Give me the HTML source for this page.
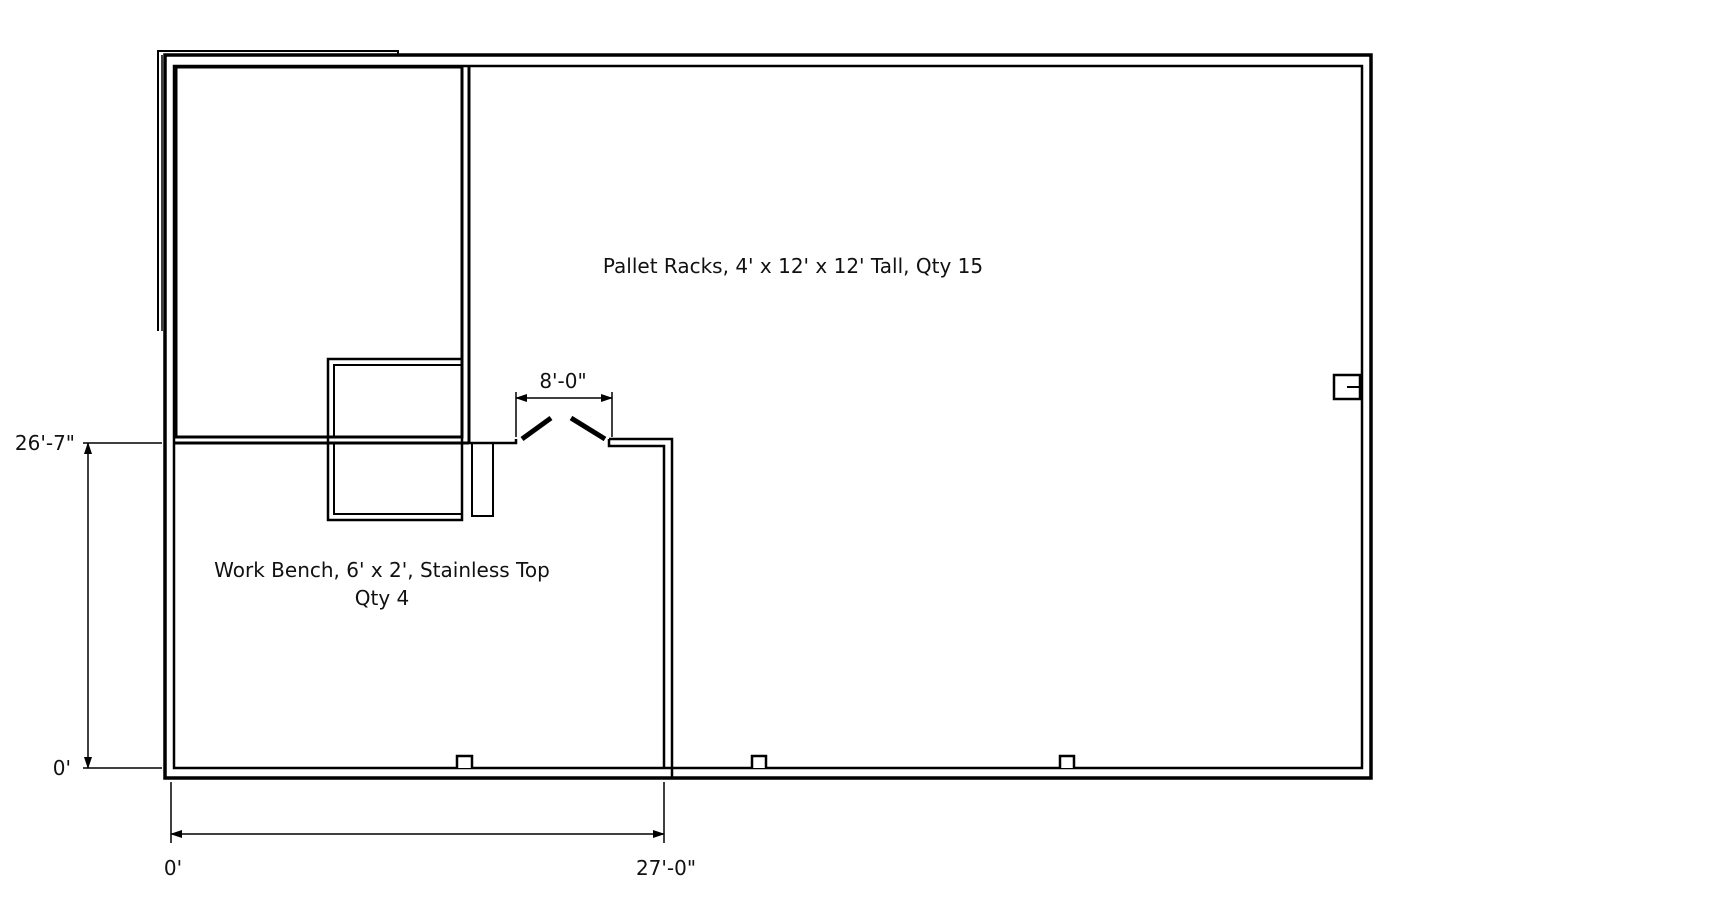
<!DOCTYPE html><html><head><style>body{margin:0;background:#fff}svg{display:block}text{font-family:"DejaVu Sans","Liberation Sans",sans-serif;font-size:20px;fill:#111}</style></head><body>
<svg width="1727" height="911" viewBox="0 0 1727 911" xmlns="http://www.w3.org/2000/svg">
<defs><marker id="a" markerWidth="12" markerHeight="10" refX="11" refY="5" orient="auto" markerUnits="userSpaceOnUse"><path d="M0,1 L12,5 L0,9Z" fill="#000"/></marker>
<marker id="b" markerWidth="12" markerHeight="10" refX="1" refY="5" orient="auto" markerUnits="userSpaceOnUse"><path d="M12,1 L0,5 L12,9Z" fill="#000"/></marker></defs>
<g fill="none" stroke="#000">
<polyline points="158,331 158,51 398,51 398,55" stroke-width="2"/>
<polyline points="162,331 162,55" stroke-width="1.5"/>
<rect x="165" y="55" width="1206" height="723" stroke-width="3.5"/>
<path d="M174,66 H1362 V768 H174 Z" stroke-width="2.5"/>
<rect x="176" y="67" width="286" height="370" stroke-width="3"/>
<line x1="469" y1="66" x2="469" y2="443" stroke-width="3"/>
<line x1="174" y1="443" x2="469" y2="443" stroke-width="3"/>
<rect x="328" y="359" width="134" height="161" stroke-width="2.5"/>
<rect x="334" y="365" width="128" height="72" stroke-width="2"/>
<rect x="334" y="443" width="128" height="71" stroke-width="2"/>
<rect x="472" y="443" width="21" height="73" stroke-width="2"/>
<polyline points="469,443 516,443 516,439" stroke-width="2.5"/>
<line x1="522" y1="439" x2="551" y2="418" stroke-width="5"/>
<line x1="571" y1="418" x2="605" y2="439" stroke-width="5"/>
<polyline points="609,439 609,446 664,446 664,768" stroke-width="2.5"/>
<polyline points="609,439 672,439 672,778" stroke-width="2.5"/>
<line x1="516" y1="398" x2="612" y2="398" stroke-width="1.5" marker-start="url(#b)" marker-end="url(#a)"/>
<line x1="516" y1="392" x2="516" y2="437" stroke-width="1.5"/>
<line x1="612" y1="392" x2="612" y2="437" stroke-width="1.5"/>
<path d="M457,768 V756 H472 V768 M752,768 V756 H766 V768 M1060,768 V756 H1074 V768" stroke-width="2.5" fill="#fff"/>
<rect x="1334" y="375" width="26" height="24" stroke-width="2.5"/>
<line x1="1347" y1="387" x2="1360" y2="387" stroke-width="2"/>
<line x1="83" y1="443" x2="162" y2="443" stroke-width="1.5"/>
<line x1="83" y1="768" x2="162" y2="768" stroke-width="1.5"/>
<line x1="88" y1="443" x2="88" y2="768" stroke-width="1.5" marker-start="url(#b)" marker-end="url(#a)"/>
<line x1="171" y1="782" x2="171" y2="843" stroke-width="1.5"/>
<line x1="664" y1="782" x2="664" y2="843" stroke-width="1.5"/>
<line x1="171" y1="834" x2="664" y2="834" stroke-width="1.5" marker-start="url(#b)" marker-end="url(#a)"/>
</g>
<text x="793" y="273" text-anchor="middle">Pallet Racks, 4' x 12' x 12' Tall, Qty 15</text>
<text x="382" y="577" text-anchor="middle">Work Bench, 6' x 2', Stainless Top</text>
<text x="382" y="605" text-anchor="middle">Qty 4</text>
<text x="563" y="388" text-anchor="middle">8'-0"</text>
<text x="75" y="450" text-anchor="end">26'-7"</text>
<text x="71" y="775" text-anchor="end">0'</text>
<text x="173" y="875" text-anchor="middle">0'</text>
<text x="666" y="875" text-anchor="middle">27'-0"</text>
</svg></body></html>
